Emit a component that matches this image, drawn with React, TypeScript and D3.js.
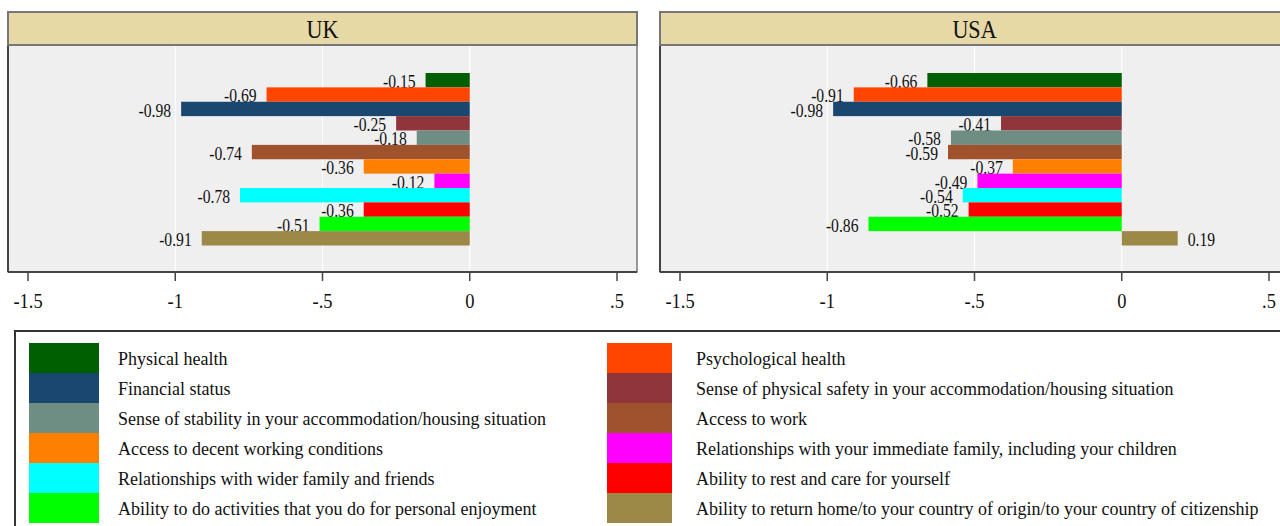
import React from "react";
import * as d3 from "d3";

const categories = [
  "Physical health",
  "Psychological health",
  "Financial status",
  "Sense of physical safety in your accommodation/housing situation",
  "Sense of stability in your accommodation/housing situation",
  "Access to work",
  "Access to decent working conditions",
  "Relationships with your immediate family, including your children",
  "Relationships with wider family and friends",
  "Ability to rest and care for yourself",
  "Ability to do activities that you do for personal enjoyment",
  "Ability to return home/to your country of origin/to your country of citizenship",
];

const colors = [
  "#005f00",
  "#ff4500",
  "#1a476f",
  "#90353b",
  "#6e8e84",
  "#a0522d",
  "#ff7f00",
  "#ff00ff",
  "#00ffff",
  "#ff0000",
  "#00ff00",
  "#9c8847",
];

const ukValues = [-0.15, -0.69, -0.98, -0.25, -0.18, -0.74, -0.36, -0.12, -0.78, -0.36, -0.51, -0.91];
const usaValues = [-0.66, -0.91, -0.98, -0.41, -0.58, -0.59, -0.37, -0.49, -0.54, -0.52, -0.86, 0.19];

const panels = [
  { title: "UK", values: ukValues },
  { title: "USA", values: usaValues },
];

const tickValues = [-1.5, -1, -0.5, 0, 0.5];
const tickLabels = ["-1.5", "-1", "-.5", "0", ".5"];
const gridValues = [-1, -0.5, 0];

const SERIF = "Liberation Serif, Times New Roman, Times, serif";

function SText({ x, y, size, sx = 1, anchor = "start", children, fill = "#111" }: any) {
  return (
    <text
      transform={`translate(${x},${y}) scale(${sx},1)`}
      style={{ fontFamily: SERIF, fontSize: size }}
      textAnchor={anchor}
      fill={fill}
    >
      {children}
    </text>
  );
}

function Panel({ title, values, left }: { title: string; values: number[]; left: number }) {
  const width = 629;
  const stripTop = 12;
  const stripBottom = 45;
  const plotBottom = 272;
  const x = d3.scaleLinear().domain([-1.5, 0.5]).range([left + 20, left + width - 20]);
  const y = d3
    .scaleBand<number>()
    .domain(d3.range(values.length))
    .range([73, 245.5])
    .paddingInner(0)
    .paddingOuter(0);
  const fmt = (v: number) => d3.format(".2f")(v).replace("\u2212", "-");
  return (
    <g>
      <rect x={left} y={stripBottom} width={width} height={plotBottom - stripBottom} fill="#efefef" />
      {gridValues.map((g) => (
        <line key={g} x1={x(g)} x2={x(g)} y1={stripBottom} y2={plotBottom} stroke="#ffffff" strokeWidth={1.2} />
      ))}
      {values.map((v, i) => {
        const x0 = x(Math.min(0, v));
        const x1 = x(Math.max(0, v));
        const yy = y(i)!;
        const h = y.bandwidth();
        return (
          <g key={i}>
            <rect x={x0} y={yy} width={x1 - x0} height={h} fill={colors[i]} />
            <SText
              x={v < 0 ? x0 - 10 : x1 + 10}
              y={yy + h + 0.5}
              size={18}
              sx={0.87}
              anchor={v < 0 ? "end" : "start"}
            >
              {fmt(v)}
            </SText>
          </g>
        );
      })}
      <rect x={left} y={stripBottom} width={width} height={plotBottom - stripBottom} fill="none" stroke="#555" strokeWidth={1.2} />
      <line x1={left} x2={left} y1={stripBottom} y2={plotBottom} stroke="#444" strokeWidth={2} />
      <line x1={left} x2={left + width} y1={plotBottom} y2={plotBottom} stroke="#444" strokeWidth={2} />
      <rect x={left} y={stripTop} width={width} height={stripBottom - stripTop} fill="#e6d9a6" stroke="#777" strokeWidth={2} />
      <SText x={left + width / 2} y={38} size={26} sx={0.85} anchor="middle">
        {title}
      </SText>
      {tickValues.map((t, i) => (
        <g key={t}>
          <line x1={x(t)} x2={x(t)} y1={plotBottom} y2={plotBottom + 9} stroke="#444" strokeWidth={1.5} />
          <SText x={x(t)} y={308} size={21} sx={0.88} anchor="middle">
            {tickLabels[i]}
          </SText>
        </g>
      ))}
    </g>
  );
}

function Legend() {
  const boxX = 15;
  const boxY = 331;
  const rowTop = 343;
  const rowH = 30;
  const cols = [
    { sw: 29, swW: 70, tx: 118 },
    { sw: 607, swW: 65, tx: 696 },
  ];
  return (
    <g>
      <rect x={boxX} y={boxY} width={1300} height={220} fill="#ffffff" stroke="#333" strokeWidth={2} />
      {categories.map((c, i) => {
        const col = cols[i % 2];
        const row = Math.floor(i / 2);
        const top = rowTop + row * rowH;
        return (
          <g key={c}>
            <rect x={col.sw} y={top} width={col.swW} height={rowH} fill={colors[i]} />
            <SText x={col.tx} y={top + rowH / 2 + 6.5} size={18} sx={1}>
              {c}
            </SText>
          </g>
        );
      })}
    </g>
  );
}

export default function App() {
  return (
    <svg
      width={1280}
      height={526}
      viewBox="0 0 1280 526"
      style={{ position: "fixed", left: 0, top: 0, background: "#ffffff" }}
    >
      <rect x={0} y={0} width={1280} height={526} fill="#ffffff" />
      {panels.map((p, i) => (
        <Panel key={p.title} title={p.title} values={p.values} left={i === 0 ? 8 : 660} />
      ))}
      <Legend />
    </svg>
  );
}
